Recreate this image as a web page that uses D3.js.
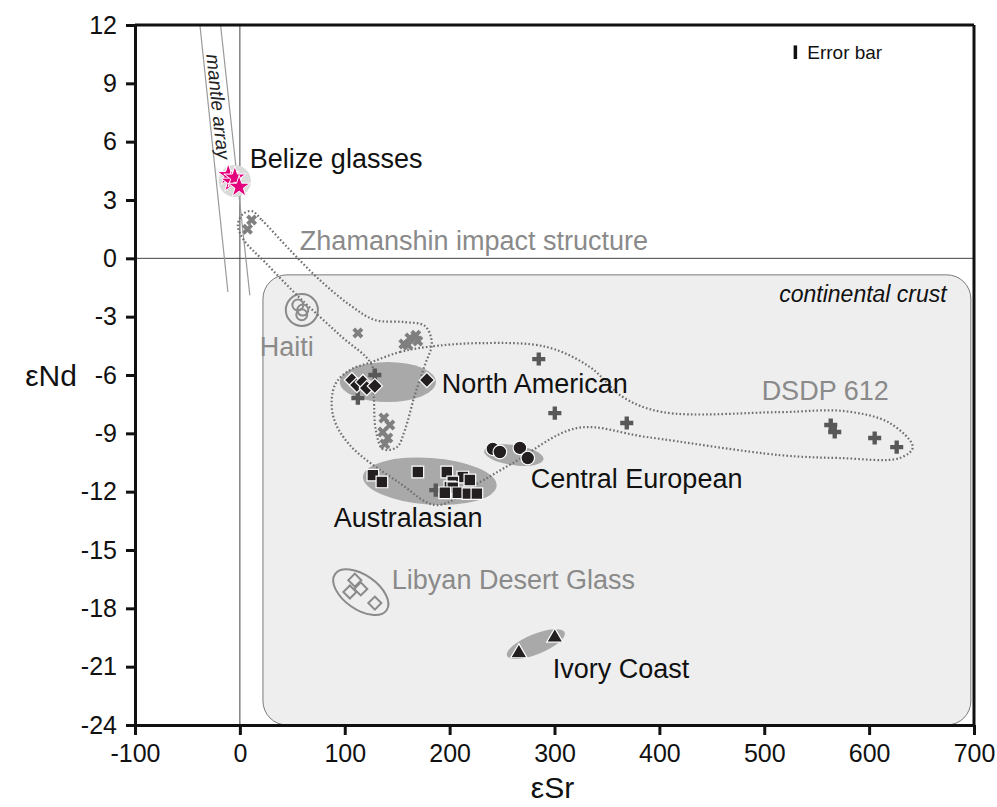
<!DOCTYPE html>
<html>
<head>
<meta charset="utf-8">
<script src="https://cdn.jsdelivr.net/npm/d3@7"></script>
<style>
  body { margin: 0; background: #fff; }
  text { font-family: "Liberation Sans", Arial, sans-serif; }
</style>
</head>
<body>
<script>
// εSr / εNd values
var belize = [[-11.1, 4.28], [-8, 3.94], [-4.8, 4.15], [-0.7, 3.68]];
var zhamanshin = [[11.2, 1.97], [7.3, 1.5], [112.5, -3.84],
  [156.3, -4.41], [162.1, -4.1], [167.8, -3.95], [160.2, -4.46], [169.7, -4.25],
  [137.3, -8.21], [143, -8.57], [136.3, -8.93], [141.1, -9.24], [138.2, -9.55]];
var haiti = [[55.3, -2.4], [60, -2.66], [59, -2.9]];
var northAmerican = [[106.8, -6.26], [111.5, -6.52], [117.3, -6.36], [121, -6.67], [128.7, -6.57], [178.3, -6.26]];
var australasian = [[126.8, -11.15], [135.4, -11.5], [169.7, -10.99], [197.3, -10.99], [212.6, -11.25],
  [219.3, -11.4], [203, -11.5], [200.2, -11.76], [203, -11.8], [195.4, -12.06], [207.8, -12.06],
  [217.4, -12.1], [226, -12.1]];
var centralEuropean = [[241.2, -9.8], [247.9, -9.96], [267, -9.75], [274.5, -10.27]];
var dsdp612 = [[128.7, -6.0], [112.5, -7.19], [186.8, -11.92], [285, -5.18], [300.3, -7.96],
  [368.9, -8.47], [563.4, -8.57], [567.2, -8.93], [605.3, -9.24], [626.3, -9.71]];
var libyan = [[109.6, -16.55], [115.3, -17.0], [104.9, -17.16], [128.7, -17.73]];
var ivoryCoast = [[266, -20.3], [300.3, -19.5]];

// dotted envelopes (outline vertices)
var zhamanshinEnvelope = [[11.4, 2.43], [21, 1.97], [47.7, 0.43], [76.3, -1.12], [104.9, -2.4], [128.7, -3.17],
  [157.3, -3.28], [176.4, -3.48], [183, -4.36], [176.4, -5.49], [166.8, -7.03], [157.3, -8.83],
  [149.7, -9.71], [136.3, -9.81], [129.6, -8.83], [127.7, -7.03], [125.8, -5.49], [95.3, -3.95],
  [57.2, -2.04], [23.8, -0.19], [3.8, 0.94], [-1.9, 1.71], [2.9, 2.28]];
var dsdpEnvelope = [[125.8, -5.33], [152.5, -4.82], [178.3, -4.56], [228.8, -4.36], [292.7, -4.56],
  [333.7, -5.59], [365.1, -7.13], [403.2, -7.91], [514.8, -7.91], [576.7, -7.86], [619.6, -8.47],
  [641.6, -9.71], [629.2, -10.27], [572, -10.27], [514.8, -10.12], [388, -9.19], [321.3, -8.73],
  [260.2, -10.53], [228.8, -11.51], [187.8, -12.69], [152.5, -11.56], [104.9, -9.61], [88.7, -8.06],
  [90.6, -6.52], [104.9, -5.75]];

// shaded / outlined fields: centre and semi-axes in data units
var fields = [
  {name: "North American", cx: 141.1, cy: -6.36, rx: 45.8, ry: 1.03, rot: 0, kind: "fill"},
  {name: "Australasian", cx: 181.1, cy: -11.46, rx: 63.9, ry: 1.2, rot: 4, kind: "fill"},
  {name: "Central European", cx: 261.2, cy: -10.12, rx: 28.6, ry: 0.52, rot: 8, kind: "fill"},
  {name: "Ivory Coast", cx: 282.2, cy: -19.84, rx: 29.6, ry: 0.52, rot: -22, kind: "fill"},
  {name: "Libyan Desert Glass", cx: 115.3, cy: -17.17, rx: 30, ry: 0.88, rot: 35, kind: "line"},
  {name: "Haiti", cx: 59.1, cy: -2.66, rx: 15.3, ry: 0.82, rot: 0, kind: "line"},
  {name: "Belize", cx: -4.8, cy: 3.98, rx: 15.3, ry: 0.82, rot: 0, kind: "belize"}
];

var mantleArray = [[[-38.1, 12], [-11.4, -1.73]], [[-18.4, 12], [9.5, -1.9]]];
var crust = {x0: 22, x1: 697, y0: -0.85, y1: -24};

var labels = [
  {t: "Belize glasses", x: 9.5, y: 4.66, c: "#111"},
  {t: "Zhamanshin impact structure", x: 57.2, y: 0.43, c: "#8a8a8a"},
  {t: "Haiti", x: 19, y: -5.03, c: "#8a8a8a"},
  {t: "North American", x: 192.4, y: -6.9, c: "#111"},
  {t: "DSDP 612", x: 497.5, y: -7.29, c: "#8a8a8a"},
  {t: "Central European", x: 277.4, y: -11.81, c: "#111"},
  {t: "Australasian", x: 89.6, y: -13.8, c: "#111"},
  {t: "Libyan Desert Glass", x: 144.9, y: -17.01, c: "#8a8a8a"},
  {t: "Ivory Coast", x: 298.4, y: -21.59, c: "#111"}
];

var xTicks = [-100, 0, 100, 200, 300, 400, 500, 600, 700];
var yTicks = [12, 9, 6, 3, 0, -3, -6, -9, -12, -15, -18, -21, -24];

var margin = {top: 25, right: 23, bottom: 82, left: 135},
    width = 997 - margin.left - margin.right,
    height = 807 - margin.top - margin.bottom;

var x = d3.scaleLinear().domain([-100, 700]).range([0, width]);
var y = d3.scaleLinear().domain([-24, 12]).range([height, 0]);

var svg = d3.select("body").append("svg")
    .attr("width", width + margin.left + margin.right)
    .attr("height", height + margin.top + margin.bottom)
  .append("g")
    .attr("transform", "translate(" + margin.left + "," + margin.top + ")");

// continental crust box
svg.append("rect")
    .attr("x", x(crust.x0)).attr("y", y(crust.y0))
    .attr("width", x(crust.x1) - x(crust.x0))
    .attr("height", y(crust.y1) - y(crust.y0))
    .attr("rx", 24).attr("ry", 24)
    .style("fill", "#eeeeee").style("stroke", "#7a7a7a").style("stroke-width", 1);

svg.append("text")
    .attr("x", x(674)).attr("y", y(-2.25))
    .attr("text-anchor", "end")
    .style("font-size", "23px").style("font-style", "italic").style("fill", "#111")
    .text("continental crust");

// reference lines at zero
svg.append("line").attr("x1", 0).attr("x2", width).attr("y1", y(0)).attr("y2", y(0))
    .style("stroke", "#444").style("stroke-width", 1);
svg.append("line").attr("x1", x(0)).attr("x2", x(0)).attr("y1", 0).attr("y2", height)
    .style("stroke", "#444").style("stroke-width", 1);

// mantle array
mantleArray.forEach(function(l) {
  svg.append("line")
      .attr("x1", x(l[0][0])).attr("y1", y(l[0][1]))
      .attr("x2", x(l[1][0])).attr("y2", y(l[1][1]))
      .style("stroke", "#9a9a9a").style("stroke-width", 1.2);
});
svg.append("text")
    .attr("transform", "translate(" + x(-20.5) + "," + y(7.8) + ") rotate(84)")
    .attr("text-anchor", "middle").attr("dy", "0.35em")
    .style("font-size", "19px").style("font-style", "italic").style("fill", "#222")
    .text("mantle array");

// fields
fields.forEach(function(f) {
  var e = svg.append("ellipse")
      .attr("rx", x(f.cx + f.rx) - x(f.cx))
      .attr("ry", y(f.cy) - y(f.cy + f.ry))
      .attr("transform", "translate(" + x(f.cx) + "," + y(f.cy) + ") rotate(" + f.rot + ")");
  if (f.kind == "fill") e.style("fill", "#a9a9a9").style("stroke", "none");
  else if (f.kind == "belize") e.style("fill", "#dadada").style("stroke", "none");
  else e.style("fill", "none").style("stroke", "#8a8a8a").style("stroke-width", 2);
});

// dotted envelopes
var envLine = d3.line()
    .x(function(d) { return x(d[0]); })
    .y(function(d) { return y(d[1]); })
    .curve(d3.curveCatmullRomClosed.alpha(0.5));

[zhamanshinEnvelope, dsdpEnvelope].forEach(function(env) {
  svg.append("path")
      .attr("d", envLine(env))
      .style("fill", "none").style("stroke", "#6e6e6e")
      .style("stroke-width", 2.2).style("stroke-dasharray", "1.6,2.2");
});

function plot(data, symbol, size, rot, fill, stroke, sw) {
  svg.append("g").selectAll("path")
      .data(data)
    .enter().append("path")
      .attr("d", d3.symbol().type(symbol).size(size))
      .attr("transform", function(d) {
        return "translate(" + x(d[0]) + "," + y(d[1]) + ") rotate(" + rot + ")"; })
      .style("fill", fill).style("stroke", stroke).style("stroke-width", sw);
}

// Haiti small open circles
svg.append("g").selectAll("circle")
    .data(haiti)
  .enter().append("circle")
    .attr("cx", function(d) { return x(d[0]); })
    .attr("cy", function(d) { return y(d[1]); })
    .attr("r", 5.5)
    .style("fill", "none").style("stroke", "#8a8a8a").style("stroke-width", 2);

plot(zhamanshin, d3.symbolCross, 75, 45, "#7f7f7f", "none", 0);
plot(dsdp612, d3.symbolCross, 95, 0, "#585858", "none", 0);
plot(libyan, d3.symbolSquare, 85, 45, "#eeeeee", "#8a8a8a", 2);
plot(northAmerican, d3.symbolSquare, 115, 45, "#231f20", "#fff", 1.2);
plot(australasian, d3.symbolSquare, 135, 0, "#231f20", "#fff", 1.2);
plot(centralEuropean, d3.symbolCircle, 145, 0, "#231f20", "#fff", 1.2);
plot(ivoryCoast, d3.symbolTriangle, 115, 0, "#231f20", "#fff", 1.2);
plot(belize, d3.symbolStar, 150, 0, "#e4007c", "#fff", 1);

// labels
svg.append("g").selectAll("text")
    .data(labels)
  .enter().append("text")
    .attr("x", function(d) { return x(d.x); })
    .attr("y", function(d) { return y(d.y); })
    .style("font-size", "27px")
    .style("fill", function(d) { return d.c; })
    .text(function(d) { return d.t; });

// error bar
svg.append("rect")
    .attr("x", x(528)).attr("y", y(10.95))
    .attr("width", 3.5).attr("height", y(10.25) - y(10.95))
    .style("fill", "#111");
svg.append("text")
    .attr("x", x(541)).attr("y", y(10.25))
    .style("font-size", "19px").style("fill", "#111")
    .text("Error bar");

// axes
var fmt = function(d) { return String(d); };
var xAxis = svg.append("g")
    .attr("transform", "translate(0," + height + ")")
    .call(d3.axisBottom(x).tickValues(xTicks).tickFormat(fmt).tickSize(10).tickPadding(9).tickSizeOuter(0));
var yAxis = svg.append("g")
    .call(d3.axisLeft(y).tickValues(yTicks).tickFormat(fmt).tickSize(9).tickPadding(9).tickSizeOuter(0));
[xAxis, yAxis].forEach(function(a) {
  a.select(".domain").style("stroke", "#111").style("stroke-width", 3);
  a.selectAll(".tick line").style("stroke", "#111").style("stroke-width", 3);
  a.selectAll(".tick text").style("font-size", "25px").style("fill", "#111")
      .style("font-family", "'Liberation Sans', Arial, sans-serif");
});

// frame top and right
svg.append("line").attr("x1", 0).attr("x2", width).attr("y1", 0).attr("y2", 0)
    .style("stroke", "#111").style("stroke-width", 3);
svg.append("line").attr("x1", width).attr("x2", width).attr("y1", 0).attr("y2", height)
    .style("stroke", "#111").style("stroke-width", 3);

// axis titles
svg.append("text")
    .attr("x", width / 2 - 2).attr("y", height + 73)
    .attr("text-anchor", "middle")
    .style("font-size", "30px").style("fill", "#111")
    .text("εSr");
svg.append("text")
    .attr("x", -84).attr("y", y(-6))
    .attr("text-anchor", "middle").attr("dy", "0.35em")
    .style("font-size", "30px").style("fill", "#111")
    .text("εNd");
</script>
</body>
</html>
